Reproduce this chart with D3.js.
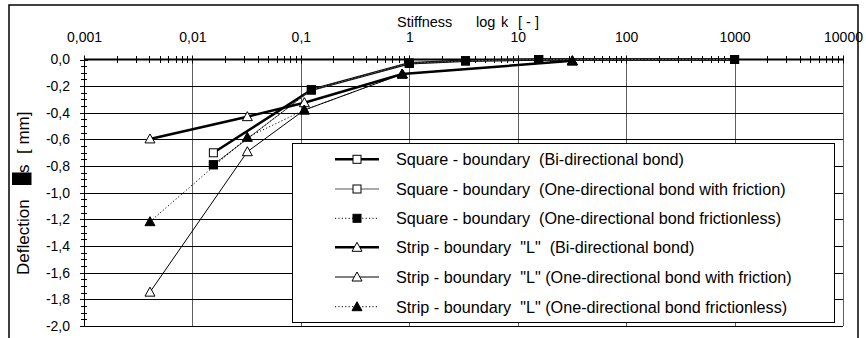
<!DOCTYPE html>
<html>
<head>
<meta charset="utf-8">
<script src="https://cdn.jsdelivr.net/npm/d3@7/dist/d3.min.js"></script>
<style>
  html, body { margin: 0; padding: 0; background: #fff; }
  svg { display: block; font-family: "Liberation Sans", Arial, sans-serif; }
  text { white-space: pre; }
</style>
</head>
<body>
<svg id="chart" width="866" height="338"></svg>
<script>
// ---------- DATA ----------
const squareK = [0.0156, 0.125, 1, 3.3, 15.6, 1000];
const squareBi = [-0.70, -0.228, -0.028, -0.01, 0, 0];
const squareFriction = [-0.79, -0.228, -0.028, -0.01, 0, 0];
const squareFrictionless = [-0.79, -0.228, -0.028, -0.01, 0, 0];

const stripK = [0.00406, 0.0321, 0.1077, 0.861, 31.9];
const stripBi = [-0.596, -0.429, -0.324, -0.109, -0.01];
const stripFriction = [-1.746, -0.692, -0.379, -0.109, -0.01];
const stripFrictionless = [-1.217, -0.584, -0.379, -0.109, -0.01];

const xTickValues = [0.001, 0.01, 0.1, 1, 10, 100, 1000, 10000];
const xTickLabels = ["0,001", "0,01", "0,1", "1", "10", "100", "1000", "10000"];
const yTickValues = [0, -0.2, -0.4, -0.6, -0.8, -1.0, -1.2, -1.4, -1.6, -1.8, -2.0];
const yTickLabels = ["0,0", "-0,2", "-0,4", "-0,6", "-0,8", "-1,0", "-1,2", "-1,4", "-1,6", "-1,8", "-2,0"];

const seriesNames = [
  "Square - boundary  (Bi-directional bond)",
  "Square - boundary  (One-directional bond with friction)",
  "Square - boundary  (One-directional bond frictionless)",
  "Strip - boundary  \"L\"  (Bi-directional bond)",
  "Strip - boundary  \"L\" (One-directional bond with friction)",
  "Strip - boundary  \"L\" (One-directional bond frictionless)"
];

// ---------- STYLES ----------
const styles = [
  { x: squareK, y: squareBi, width: 2.5, color: "#000", dash: null, marker: "square", fill: "#fff" },
  { x: squareK, y: squareFriction, width: 1, color: "#555", dash: null, marker: "square", fill: "#fff" },
  { x: squareK, y: squareFrictionless, width: 1, color: "#000", dash: "1.2,2.2", marker: "square", fill: "#000" },
  { x: stripK, y: stripBi, width: 2.5, color: "#000", dash: null, marker: "triangle", fill: "#fff" },
  { x: stripK, y: stripFriction, width: 1, color: "#000", dash: null, marker: "triangle", fill: "#fff" },
  { x: stripK, y: stripFrictionless, width: 1, color: "#000", dash: "1.2,2.2", marker: "triangle", fill: "#000" }
];

const svg = d3.select("#chart");
const pLeft = 84, pRight = 843, pTop = 59.5, pBottom = 326;

const x = d3.scaleLog().domain([0.001, 10000]).range([pLeft, pRight]);
const y = d3.scaleLinear().domain([0, -2]).range([pTop, pBottom]);

// chart border
svg.append("rect").attr("x", 9).attr("y", 5).attr("width", 849).attr("height", 345)
  .attr("fill", "#fff").attr("stroke", "#000").attr("stroke-width", 1.5);

// vertical grid (decades)
svg.append("g").selectAll("line").data(xTickValues.slice(1)).join("line")
  .attr("x1", d => Math.round(x(d)) + 0.5).attr("x2", d => Math.round(x(d)) + 0.5)
  .attr("y1", pTop).attr("y2", pBottom)
  .attr("stroke", "#606060").attr("stroke-width", 1);

// horizontal grid
svg.append("g").selectAll("line").data(yTickValues.slice(1)).join("line")
  .attr("x1", pLeft).attr("x2", pRight)
  .attr("y1", d => Math.round(y(d)) + 0.5).attr("y2", d => Math.round(y(d)) + 0.5)
  .attr("stroke", "#000").attr("stroke-width", 1);

// top axis labels
const xAxis = d3.axisTop(x).tickValues(xTickValues)
  .tickFormat((d, i) => xTickLabels[i]).tickSize(0).tickPadding(17.5);
const gx = svg.append("g").attr("transform", `translate(0,${pTop})`).call(xAxis);
gx.select(".domain").remove();
gx.selectAll("text").attr("font-size", 14).attr("font-family", "Liberation Sans, Arial, sans-serif").attr("fill", "#000");

// y axis labels
const yAxis = d3.axisLeft(y).tickValues(yTickValues)
  .tickFormat((d, i) => yTickLabels[i]).tickSize(0).tickPadding(14);
const gy = svg.append("g").attr("transform", `translate(${pLeft},0)`).call(yAxis);
gy.select(".domain").remove();
gy.selectAll("text").attr("font-size", 14).attr("font-family", "Liberation Sans, Arial, sans-serif").attr("fill", "#000");

// x minor/major ticks crossing the zero line
const xMinor = [];
for (let e = -3; e < 4; e++) for (let m = 2; m <= 9; m++) xMinor.push(m * Math.pow(10, e));
svg.append("g").selectAll("line").data(xMinor).join("line")
  .attr("x1", d => Math.round(x(d)) + 0.5).attr("x2", d => Math.round(x(d)) + 0.5)
  .attr("y1", pTop - 3.5).attr("y2", pTop + 3.5).attr("stroke", "#000");
svg.append("g").selectAll("line").data(xTickValues).join("line")
  .attr("x1", d => Math.round(x(d)) + 0.5).attr("x2", d => Math.round(x(d)) + 0.5)
  .attr("y1", pTop - 4).attr("y2", pTop + 4).attr("stroke", "#000");

// y axis line and ticks
const yMinor = d3.range(0, 41).map(i => -i * 0.05);
svg.append("line").attr("x1", pLeft + 0.5).attr("x2", pLeft + 0.5).attr("y1", pTop).attr("y2", pBottom)
  .attr("stroke", "#000");
svg.append("g").selectAll("line").data(yMinor).join("line")
  .attr("x1", pLeft - 3).attr("x2", pLeft + 3)
  .attr("y1", d => Math.round(y(d)) + 0.5).attr("y2", d => Math.round(y(d)) + 0.5)
  .attr("stroke", "#000");
svg.append("g").selectAll("line").data(yTickValues).join("line")
  .attr("x1", pLeft - 4).attr("x2", pLeft + 4)
  .attr("y1", d => Math.round(y(d)) + 0.5).attr("y2", d => Math.round(y(d)) + 0.5)
  .attr("stroke", "#000");

// zero line (thick)
svg.append("line").attr("x1", pLeft).attr("x2", pRight).attr("y1", pTop).attr("y2", pTop)
  .attr("stroke", "#000").attr("stroke-width", 2);

// axis titles
const xt = svg.append("text").attr("y", 27).attr("font-size", 14.5).attr("fill", "#000");
xt.append("tspan").attr("x", 397).text("Stiffness");
xt.append("tspan").attr("x", 476).text("log");
xt.append("tspan").attr("x", 501).text("k");
xt.append("tspan").attr("x", 518).text("[ - ]");

const yt = svg.append("g").attr("transform", "rotate(-90)");
const ytt = yt.append("text").attr("y", 28.5).attr("font-size", 17).attr("fill", "#000");
ytt.append("tspan").attr("x", -275).text("Deflection");
ytt.append("tspan").attr("x", -173).text("s");
ytt.append("tspan").attr("x", -154).text("[ mm]");
yt.append("rect").attr("x", -185).attr("y", 12).attr("width", 12.5).attr("height", 19.5).attr("fill", "#000");

// markers
function drawMarker(g, type, cx, cy, fill, stroke) {
  if (type === "square") {
    g.append("rect").attr("x", cx - 4).attr("y", cy - 4).attr("width", 8).attr("height", 8)
      .attr("fill", fill).attr("stroke", stroke).attr("stroke-width", 1);
  } else {
    const s = 5;
    g.append("path")
      .attr("d", `M${cx},${cy - s}L${cx + s},${cy + s * 0.8}L${cx - s},${cy + s * 0.8}Z`)
      .attr("fill", fill).attr("stroke", stroke).attr("stroke-width", 1);
  }
}

// series
const line = d3.line().x(d => x(d[0])).y(d => y(d[1]));
styles.forEach(s => {
  const pts = s.x.map((k, i) => [k, s.y[i]]);
  const g = svg.append("g");
  g.append("path").attr("d", line(pts)).attr("fill", "none")
    .attr("stroke", s.color).attr("stroke-width", s.width)
    .attr("stroke-dasharray", s.dash);
  pts.forEach(p => drawMarker(g, s.marker, x(p[0]), y(p[1]), s.fill, "#000"));
});

// legend
const lg = svg.append("g");
lg.append("rect").attr("x", 292.5).attr("y", 143.5).attr("width", 542).attr("height", 179)
  .attr("fill", "#fff").attr("stroke", "#000").attr("stroke-width", 1);
const rowY = [159.3, 189, 218.3, 247.3, 277, 306.7];
styles.forEach((s, i) => {
  const cy = rowY[i];
  lg.append("line").attr("x1", 335).attr("x2", 379).attr("y1", cy).attr("y2", cy)
    .attr("stroke", s.color).attr("stroke-width", s.width).attr("stroke-dasharray", s.dash);
  drawMarker(lg, s.marker, 357, cy, s.fill, "#000");
  lg.append("text").attr("x", 396).attr("y", cy + 5.8).attr("font-size", 16.2).attr("fill", "#000")
    .text(seriesNames[i]);
});
</script>
</body>
</html>
